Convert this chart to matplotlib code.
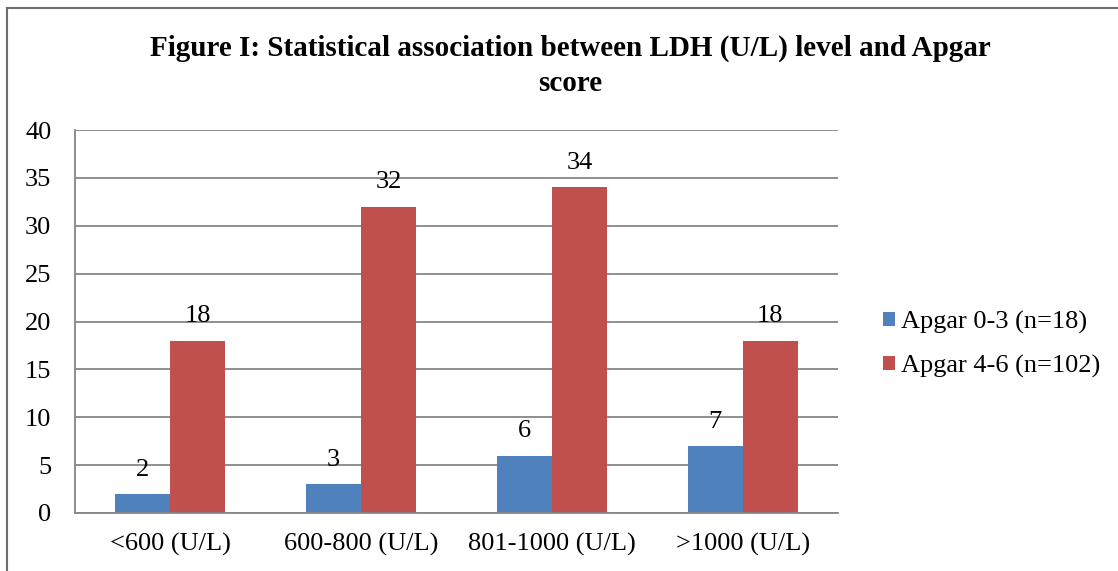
import numpy as np
import matplotlib.pyplot as plt
from matplotlib.lines import Line2D

# LDH level groups and counts per Apgar group
categories = ['<600 (U/L)', '600-800 (U/L)', '801-1000 (U/L)', '>1000 (U/L)']
apgar_0_3 = [2, 3, 6, 7]
apgar_4_6 = [18, 32, 34, 18]
series_names = ['Apgar 0-3 (n=18)', 'Apgar 4-6 (n=102)']

plt.rcParams['font.family'] = ['Liberation Serif', 'DejaVu Serif']

fig = plt.figure(figsize=(11.18, 5.71), dpi=100)
ax = fig.add_axes([0.0671, 0.1016, 0.6825, 0.6707])

x = np.arange(len(categories))
w = 0.288
b1 = ax.bar(x - w / 2, apgar_0_3, w, color='#4F81BD', label=series_names[0])
b2 = ax.bar(x + w / 2, apgar_4_6, w, color='#C0504D', label=series_names[1])

for bars in (b1, b2):
    for r in bars:
        ax.annotate(f'{r.get_height():g}', (r.get_x() + r.get_width() / 2, r.get_height()),
                    xytext=(0, 9.5), textcoords='offset points', ha='center', va='bottom',
                    fontsize=19)

ax.set_xlim(-0.5, len(categories) - 0.5)
ax.set_ylim(0, 40)
ax.set_yticks(range(0, 41, 5))
ax.set_xticks(x)
ax.set_xticklabels(categories)
ax.tick_params(axis='both', length=0, labelsize=19, colors='black')
ax.tick_params(axis='y', pad=17)
ax.tick_params(axis='x', pad=14)
ax.yaxis.grid(True, color='#868686', linewidth=1.3)
ax.set_axisbelow(True)
for s in ('top', 'right'):
    ax.spines[s].set_visible(False)
for s in ('left', 'bottom'):
    ax.spines[s].set_color('#868686')
    ax.spines[s].set_linewidth(1.3)

fig.text(0.51, 0.915, 'Figure I: Statistical association between LDH (U/L) level and Apgar',
         ha='center', va='center', fontsize=21, fontweight='bold')
fig.text(0.51, 0.853, 'score', ha='center', va='center', fontsize=21, fontweight='bold')

fig.legend(handles=[b1, b2], loc='center left', bbox_to_anchor=(0.769, 0.397),
           frameon=False, fontsize=19, handlelength=0.45, handleheight=0.45,
           handletextpad=0.2, labelspacing=0.79)

# outer chart border (top and left edges)
fig.add_artist(Line2D([0.0063, 1.0], [0.986, 0.986], transform=fig.transFigure,
                      color='#6e6e6e', linewidth=1.5))
fig.add_artist(Line2D([0.0063, 0.0063], [0.0, 0.986], transform=fig.transFigure,
                      color='#6e6e6e', linewidth=1.5))

fig.savefig('out.png', dpi=100)
